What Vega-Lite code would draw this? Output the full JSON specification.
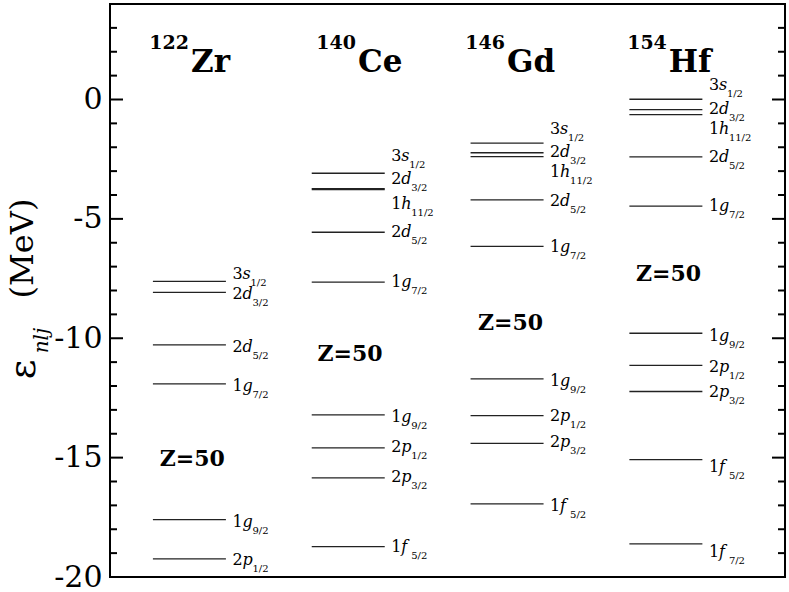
{
  "$schema": "https://vega.github.io/schema/vega-lite/v6.json",
  "width": 675,
  "height": 573,
  "autosize": {"type": "none"},
  "padding": {"left": 110, "top": 4, "right": 4, "bottom": 15},
  "background": "white",
  "config": {"view": {"stroke": "black", "strokeWidth": 2}, "font": "DejaVu Serif"},
  "datasets": {
    "levels": [
      {"nucleus": "122Zr", "col": 1, "n": "3", "l": "s", "j": "1/2", "E": -7.62, "LE": -7.50},
      {"nucleus": "122Zr", "col": 1, "n": "2", "l": "d", "j": "3/2", "E": -8.08, "LE": -8.34},
      {"nucleus": "122Zr", "col": 1, "n": "2", "l": "d", "j": "5/2", "E": -10.28, "LE": -10.59},
      {"nucleus": "122Zr", "col": 1, "n": "1", "l": "g", "j": "7/2", "E": -11.91, "LE": -12.19},
      {"nucleus": "122Zr", "col": 1, "n": "1", "l": "g", "j": "9/2", "E": -17.60, "LE": -17.89},
      {"nucleus": "122Zr", "col": 1, "n": "2", "l": "p", "j": "1/2", "E": -19.24, "LE": -19.48},
      {"nucleus": "140Ce", "col": 2, "n": "3", "l": "s", "j": "1/2", "E": -3.09, "LE": -2.58},
      {"nucleus": "140Ce", "col": 2, "n": "2", "l": "d", "j": "3/2", "E": -3.73, "LE": -3.53},
      {"nucleus": "140Ce", "col": 2, "n": "1", "l": "h", "j": "11/2", "E": -3.77, "LE": -4.58},
      {"nucleus": "140Ce", "col": 2, "n": "2", "l": "d", "j": "5/2", "E": -5.56, "LE": -5.77},
      {"nucleus": "140Ce", "col": 2, "n": "1", "l": "g", "j": "7/2", "E": -7.65, "LE": -7.86},
      {"nucleus": "140Ce", "col": 2, "n": "1", "l": "g", "j": "9/2", "E": -13.21, "LE": -13.52},
      {"nucleus": "140Ce", "col": 2, "n": "2", "l": "p", "j": "1/2", "E": -14.59, "LE": -14.77},
      {"nucleus": "140Ce", "col": 2, "n": "2", "l": "p", "j": "3/2", "E": -15.85, "LE": -16.03},
      {"nucleus": "140Ce", "col": 2, "n": "1", "l": "f", "j": "5/2", "E": -18.73, "LE": -18.96},
      {"nucleus": "146Gd", "col": 3, "n": "3", "l": "s", "j": "1/2", "E": -1.83, "LE": -1.44},
      {"nucleus": "146Gd", "col": 3, "n": "2", "l": "d", "j": "3/2", "E": -2.23, "LE": -2.42},
      {"nucleus": "146Gd", "col": 3, "n": "1", "l": "h", "j": "11/2", "E": -2.39, "LE": -3.25},
      {"nucleus": "146Gd", "col": 3, "n": "2", "l": "d", "j": "5/2", "E": -4.20, "LE": -4.44},
      {"nucleus": "146Gd", "col": 3, "n": "1", "l": "g", "j": "7/2", "E": -6.15, "LE": -6.39},
      {"nucleus": "146Gd", "col": 3, "n": "1", "l": "g", "j": "9/2", "E": -11.70, "LE": -12.00},
      {"nucleus": "146Gd", "col": 3, "n": "2", "l": "p", "j": "1/2", "E": -13.24, "LE": -13.45},
      {"nucleus": "146Gd", "col": 3, "n": "2", "l": "p", "j": "3/2", "E": -14.40, "LE": -14.57},
      {"nucleus": "146Gd", "col": 3, "n": "1", "l": "f", "j": "5/2", "E": -16.94, "LE": -17.22},
      {"nucleus": "154Hf", "col": 4, "n": "3", "l": "s", "j": "1/2", "E": 0.01, "LE": 0.38},
      {"nucleus": "154Hf", "col": 4, "n": "2", "l": "d", "j": "3/2", "E": -0.42, "LE": -0.60},
      {"nucleus": "154Hf", "col": 4, "n": "1", "l": "h", "j": "11/2", "E": -0.63, "LE": -1.44},
      {"nucleus": "154Hf", "col": 4, "n": "2", "l": "d", "j": "5/2", "E": -2.40, "LE": -2.63},
      {"nucleus": "154Hf", "col": 4, "n": "1", "l": "g", "j": "7/2", "E": -4.47, "LE": -4.68},
      {"nucleus": "154Hf", "col": 4, "n": "1", "l": "g", "j": "9/2", "E": -9.79, "LE": -10.10},
      {"nucleus": "154Hf", "col": 4, "n": "2", "l": "p", "j": "1/2", "E": -11.14, "LE": -11.42},
      {"nucleus": "154Hf", "col": 4, "n": "2", "l": "p", "j": "3/2", "E": -12.23, "LE": -12.47},
      {"nucleus": "154Hf", "col": 4, "n": "1", "l": "f", "j": "5/2", "E": -15.08, "LE": -15.61},
      {"nucleus": "154Hf", "col": 4, "n": "1", "l": "f", "j": "7/2", "E": -18.61, "LE": -19.17}
    ],
    "titles": [
      {"A": "122", "sym": "Zr", "tx": 0.9975, "gap": "Z=50", "zx": 1.018, "zE": -15.33},
      {"A": "140", "sym": "Ce", "tx": 2.049, "gap": "Z=50", "zx": 2.011, "zE": -10.94},
      {"A": "146", "sym": "Gd", "tx": 2.987, "gap": "Z=50", "zx": 3.022, "zE": -9.64},
      {"A": "154", "sym": "Hf", "tx": 4.006, "gap": "Z=50", "zx": 4.017, "zE": -7.59}
    ],
    "yticks": [
      {"v": -20}, {"v": -19}, {"v": -18}, {"v": -17}, {"v": -16}, {"v": -15}, {"v": -14}, {"v": -13},
      {"v": -12}, {"v": -11}, {"v": -10}, {"v": -9}, {"v": -8}, {"v": -7}, {"v": -6}, {"v": -5},
      {"v": -4}, {"v": -3}, {"v": -2}, {"v": -1}, {"v": 0}, {"v": 1}, {"v": 2}, {"v": 3}
    ],
    "ytitle": [{"main": "ε", "sub": "nlj"}]
  },
  "layer": [
    {
      "data": {"name": "levels"},
      "mark": {"type": "tick", "orient": "horizontal", "size": 73, "thickness": 1.3, "color": "#222", "opacity": 1},
      "encoding": {
        "x": {"field": "col", "type": "quantitative", "scale": {"domain": [0.5, 4.75], "nice": false, "zero": false}, "axis": null},
        "y": {
          "field": "E", "type": "quantitative",
          "scale": {"domain": [-20, 4], "nice": false, "zero": false},
          "axis": {
            "orient": "left",
            "values": [-20, -15, -10, -5, 0],
            "labelExpr": "'' + datum.value",
            "ticks": false,
            "tickSize": 0,
            "domain": false,
            "grid": false,
            "labelFont": "DejaVu Serif",
            "labelFontSize": 30,
            "labelColor": "black",
            "labelPadding": 8,
            "labelOverlap": false,
            "labelBound": false,
            "labelFlush": false,
            "title": "(MeV)",
            "titleFont": "DejaVu Serif",
            "titleFontSize": 32,
            "titleFontWeight": "normal",
            "titleColor": "black",
            "titleAngle": 270,
            "titleX": -78,
            "titleY": 244,
            "titleAlign": "center",
            "titleBaseline": "alphabetic"
          }
        }
      }
    },
    {
      "data": {"name": "levels"},
      "mark": {"type": "text", "align": "left", "baseline": "alphabetic", "dx": 43, "fontSize": 16, "font": "DejaVu Serif", "color": "black"},
      "encoding": {
        "x": {"field": "col", "type": "quantitative", "scale": {"domain": [0.5, 4.75], "nice": false, "zero": false}, "axis": null},
        "y": {"field": "LE", "type": "quantitative", "scale": {"domain": [-20, 4], "nice": false, "zero": false}},
        "text": {"field": "n"}
      }
    },
    {
      "data": {"name": "levels"},
      "mark": {"type": "text", "align": "left", "baseline": "alphabetic", "dx": 53, "fontSize": 16, "fontStyle": "italic", "font": "DejaVu Serif", "color": "black"},
      "encoding": {
        "x": {"field": "col", "type": "quantitative", "scale": {"domain": [0.5, 4.75], "nice": false, "zero": false}, "axis": null},
        "y": {"field": "LE", "type": "quantitative", "scale": {"domain": [-20, 4], "nice": false, "zero": false}},
        "text": {"field": "l"}
      }
    },
    {
      "data": {"name": "levels"},
      "transform": [{"filter": "datum.l === 's'"}],
      "mark": {"type": "text", "align": "left", "baseline": "alphabetic", "dx": 61, "dy": 7, "fontSize": 10, "font": "DejaVu Serif", "color": "black"},
      "encoding": {
        "x": {"field": "col", "type": "quantitative", "scale": {"domain": [0.5, 4.75], "nice": false, "zero": false}, "axis": null},
        "y": {"field": "LE", "type": "quantitative", "scale": {"domain": [-20, 4], "nice": false, "zero": false}},
        "text": {"field": "j"}
      }
    },
    {
      "data": {"name": "levels"},
      "transform": [{"filter": "datum.l !== 's'"}],
      "mark": {"type": "text", "align": "left", "baseline": "alphabetic", "dx": 63, "dy": 7, "fontSize": 10, "font": "DejaVu Serif", "color": "black"},
      "encoding": {
        "x": {"field": "col", "type": "quantitative", "scale": {"domain": [0.5, 4.75], "nice": false, "zero": false}, "axis": null},
        "y": {"field": "LE", "type": "quantitative", "scale": {"domain": [-20, 4], "nice": false, "zero": false}},
        "text": {"field": "j"}
      }
    },
    {
      "data": {"name": "titles"},
      "mark": {"type": "text", "align": "right", "baseline": "alphabetic", "fontSize": 19, "fontWeight": "bold", "font": "DejaVu Serif", "color": "black"},
      "encoding": {
        "x": {"field": "tx", "type": "quantitative", "scale": {"domain": [0.5, 4.75], "nice": false, "zero": false}, "axis": null},
        "y": {"datum": 2.12, "type": "quantitative", "scale": {"domain": [-20, 4], "nice": false, "zero": false}},
        "text": {"field": "A"}
      }
    },
    {
      "data": {"name": "titles"},
      "mark": {"type": "text", "align": "left", "baseline": "alphabetic", "dx": 2, "fontSize": 31, "fontWeight": "bold", "font": "DejaVu Serif", "color": "black"},
      "encoding": {
        "x": {"field": "tx", "type": "quantitative", "scale": {"domain": [0.5, 4.75], "nice": false, "zero": false}, "axis": null},
        "y": {"datum": 1.14, "type": "quantitative", "scale": {"domain": [-20, 4], "nice": false, "zero": false}},
        "text": {"field": "sym"}
      }
    },
    {
      "data": {"name": "titles"},
      "mark": {"type": "text", "align": "center", "baseline": "alphabetic", "fontSize": 22, "fontWeight": "bold", "font": "DejaVu Serif", "color": "black"},
      "encoding": {
        "x": {"field": "zx", "type": "quantitative", "scale": {"domain": [0.5, 4.75], "nice": false, "zero": false}, "axis": null},
        "y": {"field": "zE", "type": "quantitative", "scale": {"domain": [-20, 4], "nice": false, "zero": false}},
        "text": {"field": "gap"}
      }
    },
    {
      "data": {"name": "ytitle"},
      "mark": {"type": "text", "align": "center", "baseline": "alphabetic", "angle": 270, "fontSize": 38, "font": "DejaVu Serif", "color": "black"},
      "encoding": {
        "x": {"datum": 0.0277, "type": "quantitative", "scale": {"domain": [0.5, 4.75], "nice": false, "zero": false}, "axis": null},
        "y": {"datum": -11.3, "type": "quantitative", "scale": {"domain": [-20, 4], "nice": false, "zero": false}},
        "text": {"field": "main"}
      }
    },
    {
      "data": {"name": "ytitle"},
      "mark": {"type": "text", "align": "center", "baseline": "alphabetic", "angle": 270, "fontSize": 20, "fontStyle": "italic", "font": "DejaVu Serif", "color": "black"},
      "encoding": {
        "x": {"datum": 0.1096, "type": "quantitative", "scale": {"domain": [0.5, 4.75], "nice": false, "zero": false}, "axis": null},
        "y": {"datum": -10.1, "type": "quantitative", "scale": {"domain": [-20, 4], "nice": false, "zero": false}},
        "text": {"field": "sub"}
      }
    },
    {
      "data": {"name": "yticks"},
      "transform": [{"filter": "datum.v % 5 === 0"}],
      "mark": {"type": "rule", "strokeWidth": 2, "color": "black", "opacity": 1},
      "encoding": {
        "x": {"datum": 0.5, "type": "quantitative", "scale": {"domain": [0.5, 4.75], "nice": false, "zero": false}, "axis": null},
        "x2": {"datum": 0.5819},
        "y": {"field": "v", "type": "quantitative", "scale": {"domain": [-20, 4], "nice": false, "zero": false}}
      }
    },
    {
      "data": {"name": "yticks"},
      "transform": [{"filter": "datum.v % 5 !== 0"}],
      "mark": {"type": "rule", "strokeWidth": 2, "color": "black", "opacity": 1},
      "encoding": {
        "x": {"datum": 0.5, "type": "quantitative", "scale": {"domain": [0.5, 4.75], "nice": false, "zero": false}, "axis": null},
        "x2": {"datum": 0.5441},
        "y": {"field": "v", "type": "quantitative", "scale": {"domain": [-20, 4], "nice": false, "zero": false}}
      }
    },
    {
      "data": {"name": "yticks"},
      "transform": [{"filter": "datum.v % 5 === 0"}],
      "mark": {"type": "rule", "strokeWidth": 2, "color": "black", "opacity": 1},
      "encoding": {
        "x": {"datum": 4.6681, "type": "quantitative", "scale": {"domain": [0.5, 4.75], "nice": false, "zero": false}, "axis": null},
        "x2": {"datum": 4.75},
        "y": {"field": "v", "type": "quantitative", "scale": {"domain": [-20, 4], "nice": false, "zero": false}}
      }
    },
    {
      "data": {"name": "yticks"},
      "transform": [{"filter": "datum.v % 5 !== 0"}],
      "mark": {"type": "rule", "strokeWidth": 2, "color": "black", "opacity": 1},
      "encoding": {
        "x": {"datum": 4.7059, "type": "quantitative", "scale": {"domain": [0.5, 4.75], "nice": false, "zero": false}, "axis": null},
        "x2": {"datum": 4.75},
        "y": {"field": "v", "type": "quantitative", "scale": {"domain": [-20, 4], "nice": false, "zero": false}}
      }
    }
  ]
}
